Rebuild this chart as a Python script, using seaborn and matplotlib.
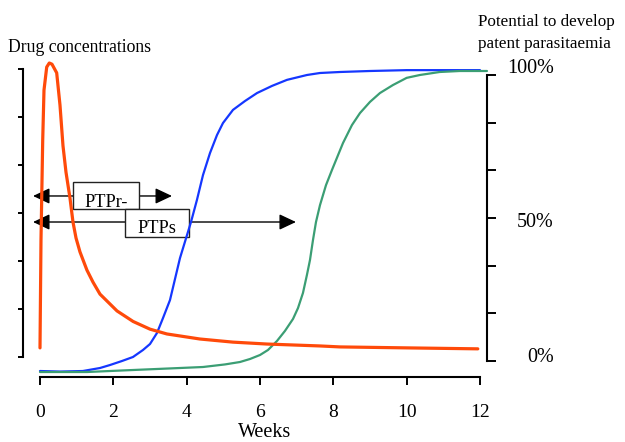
import numpy as np
import pandas as pd
import matplotlib
matplotlib.use("Agg")
import matplotlib.pyplot as plt
import seaborn as sns
from matplotlib.patches import Rectangle

# ---------------- data ----------------
weeks_ticks = [0, 2, 4, 6, 8, 10, 12]
conc_ticks = [0, 1, 2, 3, 4, 5, 6]
pct_ticks = [0, 100 / 6, 200 / 6, 50, 400 / 6, 500 / 6, 100]
pct_labels = ["0%", "50%", "100%"]
pct_label_vals = [0, 50, 100]

# drug concentration (arbitrary units, left axis)
drug_weeks = [0.0, 0.027, 0.074, 0.109, 0.183, 0.254, 0.327, 0.455, 0.545, 0.627,
              0.709, 0.818, 0.90, 0.982, 1.09, 1.28, 1.445, 1.636, 2.10, 2.54,
              3.0, 3.46, 4.36, 5.26, 6.19, 7.64, 8.18, 10.0, 11.94]
drug_conc = [0.19, 2.44, 4.52, 5.56, 6.04, 6.125, 6.10, 5.92, 5.25, 4.40,
             3.85, 3.31, 2.81, 2.48, 2.19, 1.81, 1.56, 1.31, 0.96, 0.74,
             0.58, 0.48, 0.375, 0.31, 0.27, 0.23, 0.21, 0.19, 0.17]

# potential to develop patent parasitaemia (%), right axis
blue_weeks = [0.0, 0.545, 1.17, 1.636, 1.91, 2.236, 2.536, 2.809, 3.0, 3.19,
              3.354, 3.545, 3.818, 4.118, 4.28, 4.445, 4.636, 4.827, 4.99, 5.263,
              5.59, 5.92, 6.33, 6.736, 7.28, 7.636, 8.18, 9.0, 10.0, 11.37, 12.0]
blue_pct = [-3.5, -3.7, -3.5, -2.45, -1.4, 0.0, 1.4, 3.85, 5.94, 9.79,
            15.0, 21.3, 36.0, 48.6, 56.3, 65.0, 72.7, 79.0, 83.2, 87.8,
            90.9, 93.7, 96.2, 98.3, 100.0, 100.7, 101.05, 101.4, 101.7, 101.7, 101.7]

green_weeks = [0.0, 1.28, 2.536, 3.545, 4.445, 5.045, 5.454, 5.727, 6.0, 6.218,
               6.463, 6.68, 6.9, 7.036, 7.172, 7.28, 7.363, 7.445, 7.527, 7.636,
               7.8, 7.963, 8.263, 8.508, 8.727, 9.0, 9.272, 9.627, 10.0, 10.36,
               10.9, 11.45, 12.19]
green_pct = [-3.85, -3.85, -3.15, -2.6, -2.1, -1.2, -0.35, 0.7, 2.1, 3.85,
             7.0, 10.5, 14.7, 18.5, 23.8, 30.1, 35.3, 42.3, 48.6, 54.5,
             61.5, 66.8, 76.2, 82.5, 86.7, 90.6, 93.7, 96.5, 99.0, 100.0,
             101.05, 101.4, 101.4]

# PTP arrows (weeks, %)
arrow_names = ["PTPr-", "PTPs"]
arrow_start = [-0.19, -0.19]
arrow_end = [3.6, 6.98]
arrow_level = [57.7, 48.6]

# ---------------- styling / layout helpers ----------------
W, H = 625, 442
X0, PXW = 40.0, (480.0 - 40.0) / 12.0     # px of week 0, px per week
C0, PXC = 357.0, 48.0                      # left axis: px of 0, px per unit
P0, PXP = 361.0, 2.86                      # right axis: px of 0 %, px per %


def wx(px):
    return (px - X0) / PXW


def cy(py):
    return (C0 - py) / PXC


def py_(py):
    return (P0 - py) / PXP


sns.set_theme(style="white")
plt.rcParams["font.family"] = ["Liberation Serif", "DejaVu Serif"]

fig = plt.figure(figsize=(W / 100, H / 100), dpi=100)
ax = fig.add_axes([0, 0, 1, 1])
ax.set_xlim(wx(0), wx(W))
ax.set_ylim(cy(H), cy(0))

ax2 = ax.twinx()
ax2.set_ylim(py_(H), py_(0))

ORANGE = "#FF4A0A"
BLUE = "#1537FF"
GREEN = "#3B9E74"

drug_df = pd.DataFrame({"week": drug_weeks, "conc": drug_conc})
blue_df = pd.DataFrame({"week": blue_weeks, "pct": blue_pct})
green_df = pd.DataFrame({"week": green_weeks, "pct": green_pct})

sns.lineplot(data=blue_df, x="week", y="pct", ax=ax2, color=BLUE, linewidth=1.6,
             estimator=None, zorder=5)
sns.lineplot(data=green_df, x="week", y="pct", ax=ax2, color=GREEN, linewidth=1.6,
             estimator=None, zorder=5)
sns.lineplot(data=drug_df, x="week", y="conc", ax=ax, color=ORANGE, linewidth=2.3,
             estimator=None, zorder=5)
ax.set_zorder(ax2.get_zorder() + 1)
ax.patch.set_visible(False)

# ---------------- spines / ticks ----------------
for s in ["top", "right"]:
    ax.spines[s].set_visible(False)
for s in ["top", "left", "bottom"]:
    ax2.spines[s].set_visible(False)

ax.spines["left"].set_position(("data", wx(23)))
ax.spines["left"].set_bounds(conc_ticks[0], conc_ticks[-1])
ax.spines["bottom"].set_position(("data", cy(377)))
ax.spines["bottom"].set_bounds(weeks_ticks[0], weeks_ticks[-1])
ax2.spines["right"].set_position(("data", wx(487)))
ax2.spines["right"].set_bounds(0, 100)
for sp in [ax.spines["left"], ax.spines["bottom"], ax2.spines["right"]]:
    sp.set_color("black")
    sp.set_linewidth(1.5)

ax.set_xticks(weeks_ticks)
ax.set_xticklabels([str(w) for w in weeks_ticks])
ax.set_yticks(conc_ticks)
ax.set_yticklabels([])
ax2.set_yticks(pct_ticks)
ax2.set_yticklabels([])
ax.tick_params(axis="x", bottom=True, direction="out", length=6, width=1.4,
               color="black", labelsize=14, pad=13.5, labelcolor="black")
ax.tick_params(axis="y", left=True, direction="out", length=3.6, width=1.4,
               color="black")
ax2.tick_params(axis="y", right=True, direction="out", length=6.5, width=1.4,
                color="black")
ax.set_xlabel("")
ax.set_ylabel("")
ax2.set_ylabel("")

# percent labels on the right axis
pct_label_py = {0: 361.7, 50: 226.7, 100: 73.3}
for lab, val in zip(pct_labels, pct_label_vals):
    fig.text(554 / W, 1 - pct_label_py[val] / H, lab, ha="right", va="baseline",
             fontsize=14.5, color="black")

# titles
fig.text(8 / W, 1 - 51.7 / H, "Drug concentrations", ha="left", va="baseline",
         fontsize=12.7, color="black")
fig.text(478 / W, 1 - 26 / H, "Potential to develop", ha="left", va="baseline",
         fontsize=12.3, color="black")
fig.text(478 / W, 1 - 48.5 / H, "patent parasitaemia", ha="left", va="baseline",
         fontsize=12.3, color="black")
fig.text(265 / W, 1 - 437 / H, "Weeks", ha="center", va="baseline",
         fontsize=14.5, color="black")

# ---------------- PTP arrows with labelled boxes ----------------
box_px = {"PTPr-": (73, 182, 139, 209), "PTPs": (125, 209, 189, 237)}
text_base = {"PTPr-": 206.7, "PTPs": 232.7}
for name, x0, x1, lev in zip(arrow_names, arrow_start, arrow_end, arrow_level):
    ax2.annotate("", xy=(x1, lev), xytext=(x0, lev),
                 arrowprops=dict(arrowstyle="<|-|>,head_length=0.85,head_width=0.4",
                                 color="black", lw=1.0, shrinkA=0, shrinkB=0),
                 zorder=2)
    l, t, r, b = box_px[name]
    ax2.add_patch(Rectangle((wx(l), py_(b)), wx(r) - wx(l), py_(t) - py_(b),
                            facecolor="white", edgecolor="#222222", lw=1.0, zorder=3))
    ax2.text((wx(l) + wx(r)) / 2, py_(text_base[name]), name, ha="center",
             va="baseline", fontsize=13.2, color="black", zorder=4)

fig.savefig("out.png", dpi=100)
